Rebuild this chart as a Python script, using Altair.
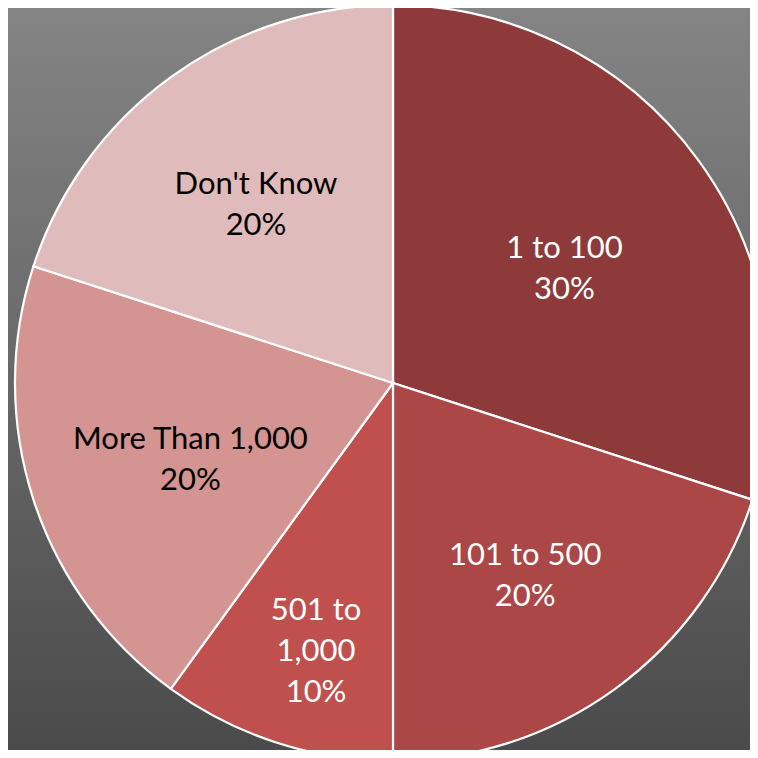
import altair as alt
import pandas as pd
import math

# Data
categories = ["1 to 100", "101 to 500", "501 to 1,000", "More Than 1,000", "Don't Know"]
values = [30, 20, 10, 20, 20]
labels = ["1 to 100\n30%", "101 to 500\n20%", "501 to\n1,000\n10%", "More Than  1,000\n20%", "Don't Know\n20%"]

# Styling / layout
colors = ["#8e3a3a", "#ab4746", "#c0504d", "#d49492", "#e0bbbb"]
text_colors = ["#ffffff", "#ffffff", "#ffffff", "#000000", "#000000"]
label_radius = [212, 225, 249, 213, 233]

W, H = 742, 742
CX, CY = 385, 375
R = 378

df = pd.DataFrame({
    "category": categories,
    "value": values,
    "label": labels,
    "idx": list(range(len(categories))),
    "tcolor": text_colors,
    "lr": label_radius,
})

total = sum(values)
theta_scale = alt.Scale(domain=[0, total], range=[0, 2 * math.pi])

bg = alt.Chart(pd.DataFrame({"a": [0]})).mark_rect(
    fill=alt.Gradient(
        gradient="linear",
        stops=[alt.GradientStop(color="#848484", offset=0),
               alt.GradientStop(color="#4b4b4b", offset=1)],
        x1=0, x2=0, y1=0, y2=1,
    )
).encode(x=alt.value(0), x2=alt.value(W), y=alt.value(0), y2=alt.value(H))

shadow = alt.Chart(pd.DataFrame({"a": [1]})).mark_arc(
    fill="#000000", opacity=0.18, outerRadius=R + 4
).encode(theta=alt.Theta("a:Q"), x=alt.value(CX), y=alt.value(CY))

base = alt.Chart(df).transform_window(
    cum="sum(value)", sort=[alt.SortField("idx")]
).transform_calculate(
    start="datum.cum - datum.value",
    mid="datum.cum - datum.value / 2",
)

arcs = base.mark_arc(outerRadius=R, stroke="#ffffff", strokeWidth=2.2).encode(
    theta=alt.Theta("start:Q", scale=theta_scale, stack=None),
    theta2="cum:Q",
    x=alt.value(CX),
    y=alt.value(CY),
    color=alt.Color("category:N",
                    scale=alt.Scale(domain=categories, range=colors),
                    legend=None),
)

texts = base.mark_text(
    font="Lato", fontSize=31, lineBreak="\n", lineHeight=41,
    align="center", baseline="alphabetic"
).encode(
    theta=alt.Theta("mid:Q", scale=theta_scale, stack=None),
    radius=alt.Radius("lr:Q", scale=None),
    x=alt.value(CX),
    y=alt.value(CY),
    text="label:N",
    color=alt.Color("tcolor:N", scale=None),
)

chart = alt.layer(bg, shadow, arcs, texts).properties(
    width=W, height=H, padding=0,
    autosize=alt.AutoSizeParams(type="none"),
    background="#6a6a6a",
).configure_view(stroke=None)

chart.save("out.html", embed_options={"renderer": "svg", "actions": False})
